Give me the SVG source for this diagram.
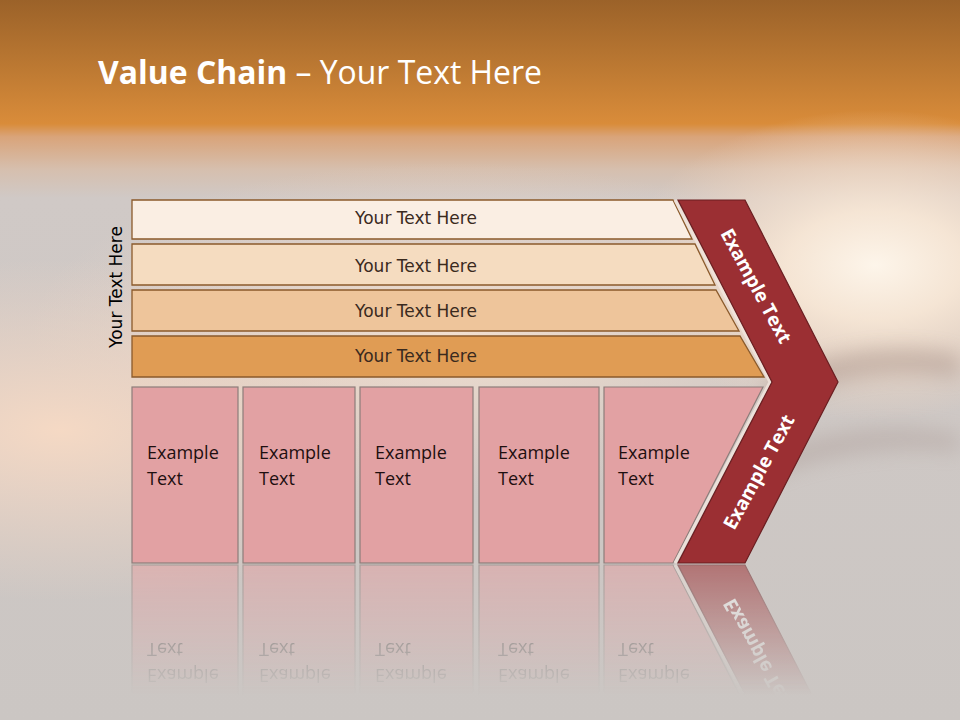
<svg xmlns="http://www.w3.org/2000/svg" xmlns:xlink="http://www.w3.org/1999/xlink" width="960" height="720" viewBox="0 0 960 720">
<defs>
<linearGradient id="bg" x1="0" y1="0" x2="0" y2="720" gradientUnits="userSpaceOnUse">
<stop offset="0" stop-color="#9b6229"/>
<stop offset="0.09" stop-color="#bb7832"/>
<stop offset="0.172" stop-color="#d98c3a"/>
<stop offset="0.19" stop-color="#d9a47a"/>
<stop offset="0.235" stop-color="#d6bfae"/>
<stop offset="0.275" stop-color="#d0c9c6"/>
<stop offset="1" stop-color="#cbc6c3"/>
</linearGradient>
<radialGradient id="glowR" cx="875" cy="265" r="250" gradientTransform="translate(875 265) scale(1 0.62) translate(-875 -265)" gradientUnits="userSpaceOnUse">
<stop offset="0" stop-color="#fdf5ea" stop-opacity="1"/>
<stop offset="0.35" stop-color="#f9e8d6" stop-opacity="0.9"/>
<stop offset="0.7" stop-color="#f2dac6" stop-opacity="0.5"/>
<stop offset="1" stop-color="#f0d5c0" stop-opacity="0"/>
</radialGradient>
<radialGradient id="glowL" cx="60" cy="430" r="380" gradientTransform="translate(60 430) scale(1 0.45) translate(-60 -430)" gradientUnits="userSpaceOnUse">
<stop offset="0" stop-color="#f5d9c4" stop-opacity="1"/>
<stop offset="1" stop-color="#f0d5c4" stop-opacity="0"/>
</radialGradient>
<radialGradient id="glowC" cx="450" cy="330" r="420" gradientTransform="translate(450 330) scale(1 0.4) translate(-450 -330)" gradientUnits="userSpaceOnUse">
<stop offset="0" stop-color="#f7e3d2" stop-opacity="0.9"/>
<stop offset="1" stop-color="#f0d8c8" stop-opacity="0"/>
</radialGradient>
<filter id="blur" x="-50%" y="-50%" width="200%" height="200%"><feGaussianBlur stdDeviation="10"/></filter>
<linearGradient id="fade" x1="0" y1="563" x2="0" y2="695" gradientUnits="userSpaceOnUse">
<stop offset="0" stop-color="#fff" stop-opacity="0.55"/>
<stop offset="1" stop-color="#fff" stop-opacity="0"/>
</linearGradient>
<mask id="reflMask" maskUnits="userSpaceOnUse" x="0" y="563" width="960" height="157">
<rect x="0" y="563" width="960" height="157" fill="url(#fade)"/>
</mask>
<style>
.bar{stroke:#8b5a2b;stroke-width:1.3}
.barText{font-family:"DejaVu Sans",Verdana,sans-serif;font-size:17px;fill:#3a2a1e;text-anchor:middle}
.box{fill:#e2a1a3;stroke:#8d7d7a;stroke-width:1.2}
.boxText{font-family:"Open Sans","Liberation Sans",sans-serif;font-size:18px;fill:#1e0f10}
.chev{fill:#9b2f33;stroke:#6a1e21;stroke-width:1.2}
.chevText{font-family:"Open Sans","Liberation Sans",sans-serif;font-size:19px;font-weight:bold;fill:#ffffff;text-anchor:middle}
</style>
</defs>

<!-- background -->
<rect x="0" y="0" width="960" height="720" fill="url(#bg)"/>
<rect x="0" y="130" width="960" height="450" fill="url(#glowC)"/>
<rect x="0" y="200" width="500" height="400" fill="url(#glowL)"/>
<rect x="600" y="110" width="360" height="430" fill="url(#glowR)"/>
<g filter="url(#blur)" opacity="0.28">
<path d="M760 390 C810 350 900 340 960 355 L960 378 C900 368 830 375 785 405 Z" fill="#7e625a"/>
<path d="M730 470 C800 430 900 420 960 435 L960 452 C900 445 820 452 755 485 Z" fill="#9a847e"/>
</g>

<!-- title -->
<text x="98" y="84" font-family="'Open Sans','Liberation Sans',sans-serif" font-size="32" fill="#ffffff" textLength="444" lengthAdjust="spacingAndGlyphs"><tspan font-weight="bold">Value Chain</tspan> – Your Text Here</text>

<!-- side label -->
<g id="sideLabel">
<text x="0" y="0" transform="translate(121.5 287) rotate(-90)" font-family="'DejaVu Sans',Verdana,sans-serif" font-size="17" fill="#000" text-anchor="middle">Your Text Here</text>
</g>

<g id="diagram">
<g id="bar1"><polygon class="bar" fill="#faeee3" points="132,200 673,200 692,239 132,239"/><text class="barText" x="416" y="224">Your Text Here</text></g>
<g id="bar2"><polygon class="bar" fill="#f5dcc0" points="132,244 695,244 715,285 132,285"/><text class="barText" x="416" y="272">Your Text Here</text></g>
<g id="bar3"><polygon class="bar" fill="#eec59b" points="132,290 716,290 739,331 132,331"/><text class="barText" x="416" y="317">Your Text Here</text></g>
<g id="bar4"><polygon class="bar" fill="#e09c54" points="132,336 740,336 764,377 132,377"/><text class="barText" x="416" y="362">Your Text Here</text></g>

<g id="boxes">
<g id="box1"><rect class="box" x="132" y="387" width="106" height="176"/><text class="boxText" x="147" y="459">Example<tspan x="147" dy="26">Text</tspan></text></g>
<g id="box2"><rect class="box" x="243" y="387" width="112" height="176"/><text class="boxText" x="259" y="459">Example<tspan x="259" dy="26">Text</tspan></text></g>
<g id="box3"><rect class="box" x="360" y="387" width="113" height="176"/><text class="boxText" x="375" y="459">Example<tspan x="375" dy="26">Text</tspan></text></g>
<g id="box4"><rect class="box" x="479" y="387" width="120" height="176"/><text class="boxText" x="498" y="459">Example<tspan x="498" dy="26">Text</tspan></text></g>
<g id="box5"><polygon class="box" points="604,387 763,387 673,563 604,563"/><text class="boxText" x="618" y="459">Example<tspan x="618" dy="26">Text</tspan></text></g>
</g>

<g id="chevron">
<polyline points="675,200 770,382 675,563" fill="none" stroke="#f2e6de" stroke-width="3" opacity="0.8"/>
<polygon class="chev" points="678,200 745,200 838,382 745,563 678,563 772,382"/>
<text class="chevText" x="0" y="0" transform="translate(756 286) rotate(61.5)" dy="6.5">Example Text</text>
<text class="chevText" x="0" y="0" transform="translate(759 472) rotate(-61.5)" dy="6.5">Example Text</text>
</g>
</g>

<!-- reflection -->
<g id="reflection" mask="url(#reflMask)">
<use xlink:href="#boxes" transform="translate(0 1128) scale(1 -1)"/>
<use xlink:href="#chevron" transform="translate(0 1128) scale(1 -1)"/>
</g>
</svg>
